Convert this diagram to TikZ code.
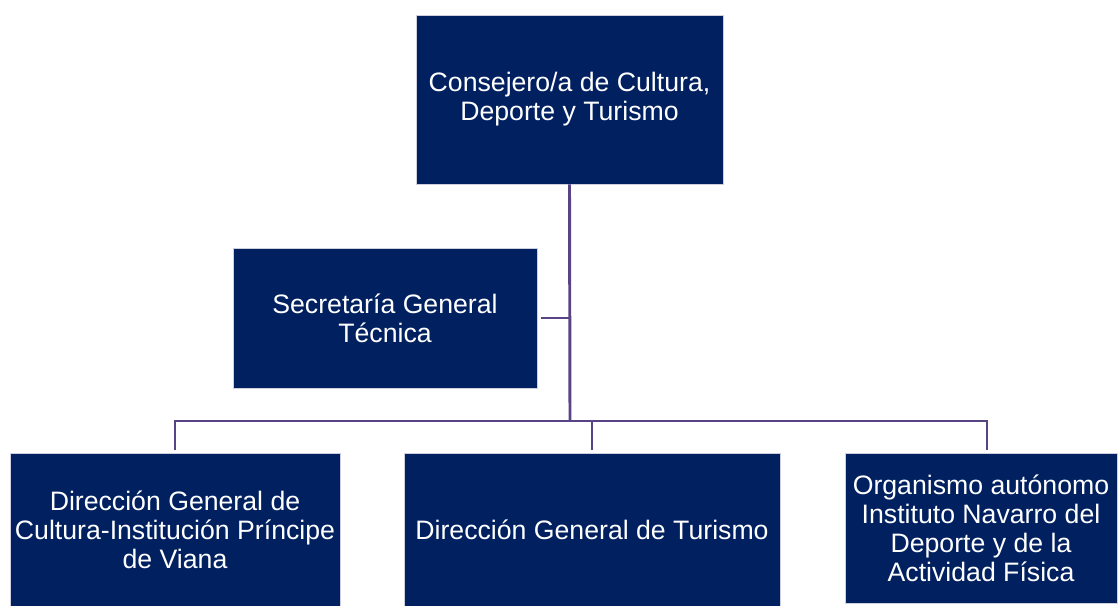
\documentclass[tikz,border=0pt]{standalone}
\usepackage{fontspec}
\setmainfont{Liberation Sans}

\definecolor{navybox}{RGB}{0,32,96}
\definecolor{orgline}{RGB}{88,68,132}
\definecolor{boxedge}{RGB}{205,208,220}

\tikzset{every picture/.style={line width=0.75pt}}
\tikzset{
  orgbox/.style={fill=navybox, draw=boxedge, line width=0.5pt, text=white, align=center,
    inner sep=0.75pt, font=\fontsize{20}{21.8}\selectfont},
  conn/.style={draw=orgline, line width=2.2pt}
}

\begin{document}
\begin{tikzpicture}[x=0.75pt,y=0.75pt,yscale=-1,xscale=1]
        \useasboundingbox (0,0) rectangle (1118,606);

        % Consejero/a
        \node [orgbox, minimum width=230.25pt, minimum height=126.75pt] (cons) at (569.5,99.5) {Consejero/a de Cultura,\\Deporte y Turismo};
        % Secretaria
        \node [orgbox, minimum width=228pt, minimum height=105pt] (sgt) at (385,318) {Secretaría General\\Técnica};
        % Direcciones
        \node [orgbox, minimum width=247.5pt, minimum height=114.75pt] (dgc) at (175,529.5) {Dirección General de\\Cultura-Institución Príncipe\\de Viana};
        \node [orgbox, minimum width=282pt, minimum height=114.75pt] (dgt) at (592,529.5) {Dirección General de Turismo};
        \node [orgbox, minimum width=204pt, minimum height=112.5pt] (ind) at (981,528) {Organismo autónomo\\Instituto Navarro del\\Deporte y de la\\Actividad Física};

        \coordinate (bus) at (570,421);

        % Lines
        \draw [conn] (cons.south) -- (bus);
        \draw [conn, shorten <=3pt] (sgt.east) -- (sgt.east -| bus);
        \draw [conn, shorten <=2pt] (dgc.north) |- (bus);
        \draw [conn, shorten <=2pt] (dgt.north) |- (bus);
        \draw [conn, shorten <=2pt] ([xshift=4.5pt]ind.north) |- (bus);

\end{tikzpicture}
\end{document}
